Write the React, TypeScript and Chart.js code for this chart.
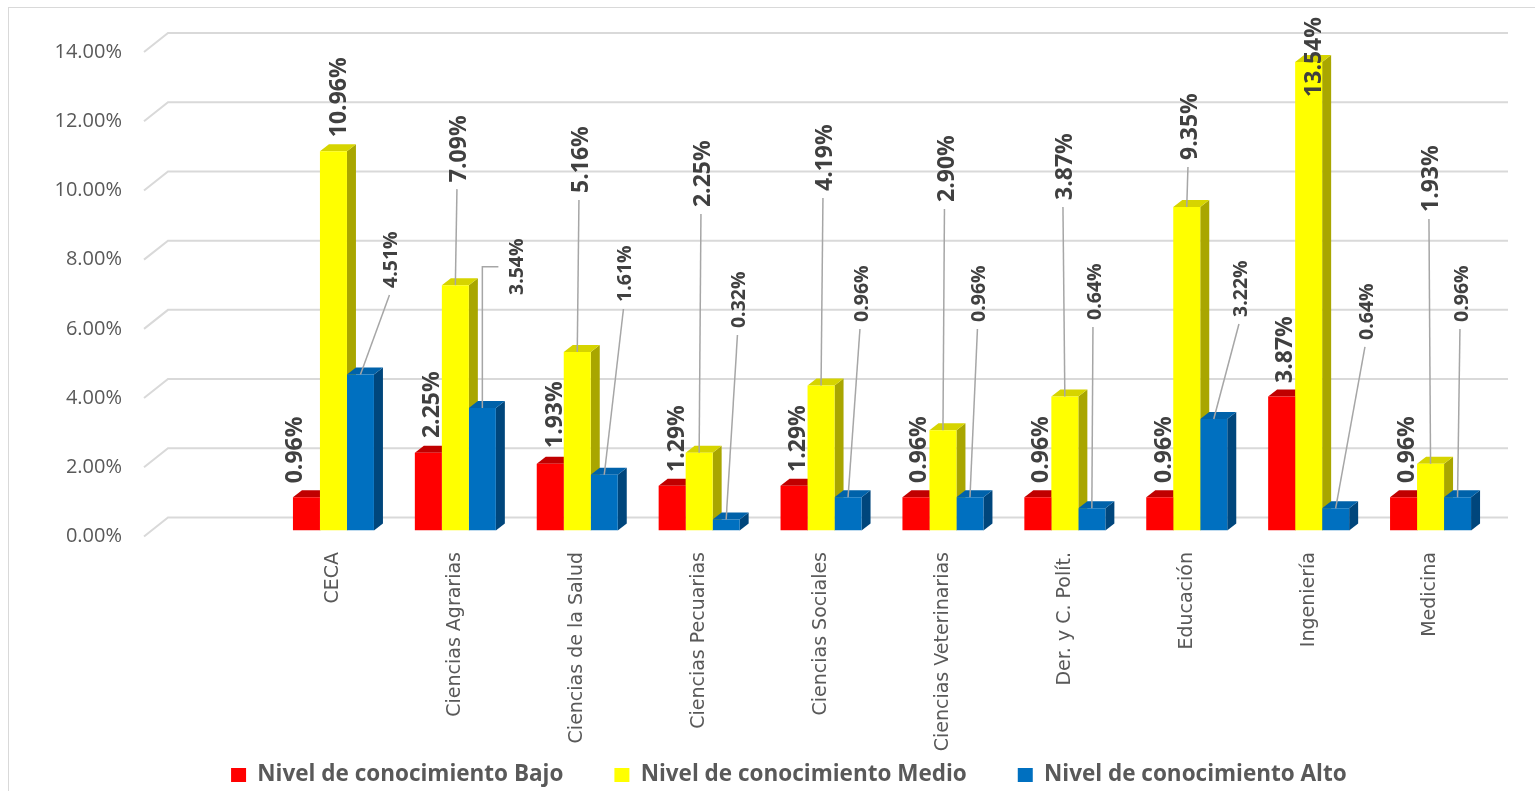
import React, { useEffect, useRef } from 'react';
import { Chart, registerables } from 'chart.js';

Chart.register(...registerables);

// ---- data -----------------------------------------------------------------
const categories = [
  'CECA',
  'Ciencias Agrarias',
  'Ciencias de la Salud',
  'Ciencias Pecuarias',
  'Ciencias Sociales',
  'Ciencias Veterinarias',
  'Der. y C. Polít.',
  'Educación',
  'Ingeniería',
  'Medicina',
];

const seriesNames = [
  'Nivel de conocimiento Bajo',
  'Nivel de conocimiento Medio',
  'Nivel de conocimiento Alto',
];

const bajo = [0.96, 2.25, 1.93, 1.29, 1.29, 0.96, 0.96, 0.96, 3.87, 0.96];
const medio = [10.96, 7.09, 5.16, 2.25, 4.19, 2.9, 3.87, 9.35, 13.54, 1.93];
const alto = [4.51, 3.54, 1.61, 0.32, 0.96, 0.96, 0.64, 3.22, 0.64, 0.96];

const yMax = 14;
const yStep = 2;

// ---- label placement (px, relative to the centre of each bar's top edge) ----
const bajoLabelShift = [
  [-12.5, -14], [2.6, -14.6], [3.7, -15.7], [3.8, -13.9], [2.9, -13.9],
  [2, -14.3], [2.1, -14.3], [2.7, -14.3], [2.3, -13.6], [2.4, -14.3],
];
const medioLabelShift = [
  [4, -14], [2.6, -103], [2.7, -159], [2.8, -245.6], [2.9, -194.5],
  [2.5, -228.2], [-0.9, -196.6], [2.2, -47], [3.8, 35], [-0.6, -251.7],
];
const altoLabelShift = [
  [30, -86.5], [34, -113], [20.2, -172.8], [12.3, -191.4], [12.9, -175.3],
  [8.5, -175.3], [2.1, -188.4], [26.2, -102.1], [30.3, -168.4], [3.4, -175.3],
];
const bajoLeader = [0, 0, 0, 0, 0, 0, 0, 0, 0, 0];
const medioLeader = [0, 1, 1, 1, 1, 1, 1, 1, 0, 1];
// 1 = straight leader, 2 = elbow leader
const altoLeader = [1, 2, 1, 1, 1, 1, 1, 1, 1, 1];

// ---- styling ----------------------------------------------------------------
const frontColors = ['#ff0000', '#ffff00', '#0070c0'];
const sideColors = ['#a30000', '#a9a600', '#00467c'];
const topColors = ['#c00000', '#d6d400', '#0062aa'];
const labelSizes = [23, 23, 19.5];
const labelShifts = [bajoLabelShift, medioLabelShift, altoLabelShift];
const labelLeaders = [bajoLeader, medioLeader, altoLeader];

const PLOT_LEFT = 272.5;
const PAD_LEFT = 86.25;
const PLOT_BOTTOM = 530.5;
const LEGEND_TOP = 712.75;
const Y_LABEL_RIGHT = 122;

const DEPTH_X = 9;
const DEPTH_Y = 7;
const WALL_LEFT = 144;
const WALL_SLANT_X = 24;
const WALL_RIGHT = 1508;
const WALL_RISE = 13;
const WALL_DROP = 6;

const depthPlugin = {
  id: 'depth3d',
  afterLayout(chart: any) {
    // let the axis labels spill outside their boxes instead of being clipped
    const { x, y } = chart.scales;
    y.left = 0;
    y.right = Y_LABEL_RIGHT;
    x.bottom = chart.height;
  },
  beforeDatasetsDraw(chart: any) {
    const ctx: CanvasRenderingContext2D = chart.ctx;
    const yScale = chart.scales.y;
    ctx.save();
    // back wall / side wall gridlines
    ctx.strokeStyle = '#d9d9d9';
    ctx.lineWidth = 2;
    ctx.lineJoin = 'miter';
    yScale.ticks.forEach((t: any) => {
      const py = yScale.getPixelForValue(t.value);
      ctx.beginPath();
      ctx.moveTo(WALL_LEFT, py + WALL_DROP);
      ctx.lineTo(WALL_LEFT + WALL_SLANT_X, py - WALL_RISE);
      ctx.lineTo(WALL_RIGHT, py - WALL_RISE);
      ctx.stroke();
    });
    // side and top faces, left to right within each group
    const nSets = chart.data.datasets.length;
    for (let i = 0; i < categories.length; i++) {
      for (let d = 0; d < nSets; d++) {
        const el = chart.getDatasetMeta(d).data[i];
        const { x, y, base, width } = el.getProps(['x', 'y', 'base', 'width'], true);
        const l = x - width / 2;
        const r = x + width / 2;
        ctx.fillStyle = sideColors[d];
        ctx.beginPath();
        ctx.moveTo(r, y);
        ctx.lineTo(r + DEPTH_X, y - DEPTH_Y);
        ctx.lineTo(r + DEPTH_X, base - DEPTH_Y);
        ctx.lineTo(r, base);
        ctx.closePath();
        ctx.fill();
        ctx.fillStyle = topColors[d];
        ctx.beginPath();
        ctx.moveTo(l, y);
        ctx.lineTo(l + DEPTH_X, y - DEPTH_Y);
        ctx.lineTo(r + DEPTH_X, y - DEPTH_Y);
        ctx.lineTo(r, y);
        ctx.closePath();
        ctx.fill();
      }
    }
    ctx.restore();
  },
};

const valueLabelPlugin = {
  id: 'valueLabels',
  afterDatasetsDraw(chart: any) {
    const ctx: CanvasRenderingContext2D = chart.ctx;
    chart.data.datasets.forEach((ds: any, d: number) => {
      const meta = chart.getDatasetMeta(d);
      const size = labelSizes[d];
      const cap = size * 0.714;
      meta.data.forEach((el: any, i: number) => {
        const { x, y } = el.getProps(['x', 'y'], true);
        const [dx, dy] = labelShifts[d][i];
        const text = (ds.data[i] as number).toFixed(2) + '%';
        const cx = x + dx;
        const bottom = y + dy;
        ctx.save();
        ctx.font = `bold ${size}px "Open Sans"`;
        const len = ctx.measureText(text).width;
        const leader = labelLeaders[d][i];
        if (leader) {
          ctx.strokeStyle = '#a6a6a6';
          ctx.lineWidth = 1.5;
          ctx.beginPath();
          ctx.moveTo(x, y);
          if (leader === 2) {
            const midY = bottom - len / 2;
            ctx.lineTo(x, midY);
            ctx.lineTo(cx - cap / 2 - 11, midY);
          } else {
            ctx.lineTo(cx - 1, bottom + 7);
          }
          ctx.stroke();
        }
        ctx.translate(cx + cap / 2, bottom);
        ctx.rotate(-Math.PI / 2);
        ctx.fillStyle = '#404040';
        ctx.textAlign = 'left';
        ctx.textBaseline = 'alphabetic';
        ctx.fillText(text, 0, 0);
        ctx.restore();
      });
    });
  },
};

export default function App() {
  const canvasRef = useRef<HTMLCanvasElement>(null);

  useEffect(() => {
    const canvas = canvasRef.current;
    if (!canvas) return;
    const series = [bajo, medio, alto];
    const chart = new Chart(canvas, {
      type: 'bar',
      data: {
        labels: categories,
        datasets: series.map((values, d) => ({
          label: seriesNames[d],
          data: values,
          backgroundColor: frontColors[d],
          borderWidth: 0,
          categoryPercentage: 0.6645,
          barPercentage: 1,
        })),
      },
      options: {
        responsive: false,
        animation: false,
        events: [],
        layout: { padding: { left: PAD_LEFT, right: 43.5, top: 46, bottom: -5.25 } },
        plugins: {
          tooltip: { enabled: false },
          legend: {
            position: 'bottom',
            labels: {
              boxWidth: 15,
              boxHeight: 14,
              padding: 51,
              color: '#595959',
              font: { family: '"Open Sans"', size: 22.5, weight: 'bold' },
            },
          },
        },
        scales: {
          x: {
            grid: { display: false, drawTicks: false },
            border: { display: false },
            ticks: {
              autoSkip: false,
              minRotation: 90,
              maxRotation: 90,
              padding: 21.5,
              color: '#595959',
              font: { family: '"DejaVu Sans"', size: 19 },
            },
            afterFit: (scale: any) => {
              scale.height = LEGEND_TOP - PLOT_BOTTOM;
            },
          },
          y: {
            min: 0,
            max: yMax,
            grid: { display: false, drawTicks: false },
            border: { display: false },
            ticks: {
              stepSize: yStep,
              padding: 0,
              labelOffset: 6,
              color: '#595959',
              font: { family: '"Open Sans"', size: 20 },
              callback: (v: any) => Number(v).toFixed(2) + '%',
            },
            afterFit: (scale: any) => {
              scale.width = PLOT_LEFT - PAD_LEFT;
            },
          },
        },
      },
      plugins: [depthPlugin, valueLabelPlugin],
    } as any);
    return () => chart.destroy();
  }, []);

  return (
    <div
      style={{
        position: 'absolute',
        left: 0,
        top: 0,
        width: 1535,
        height: 791,
        overflow: 'hidden',
        background: '#ffffff',
      }}
    >
      <div
        style={{
          position: 'absolute',
          left: 8,
          top: 7,
          width: 1600,
          height: 900,
          borderLeft: '1px solid #d9d9d9',
          borderTop: '1px solid #d9d9d9',
        }}
      />
      <canvas
        ref={canvasRef}
        width={1535}
        height={791}
        style={{ position: 'absolute', left: 0, top: 0, width: 1535, height: 791 }}
      />
    </div>
  );
}
